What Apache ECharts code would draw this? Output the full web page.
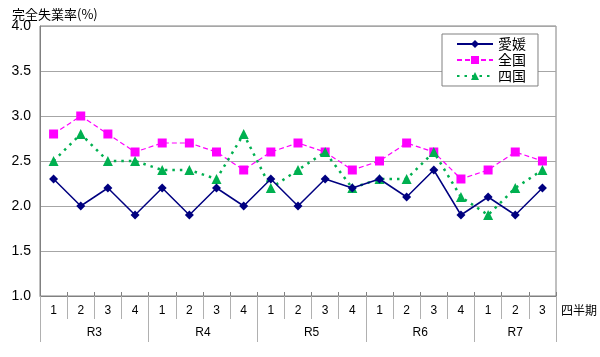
<!DOCTYPE html>
<html><head><meta charset="utf-8">
<script src="https://cdn.jsdelivr.net/npm/echarts@6/dist/echarts.min.js"></script>
<style>html,body{margin:0;padding:0;background:#fff}#c{width:600px;height:357px}</style>
</head><body><div id="c"></div>
<script>
const years = ['R3','R4','R5','R6','R7'];
const quartersPerYear = [4,4,4,4,3];
const seriesNames = ['愛媛','全国','四国'];
const ehime  = [2.3,2.0,2.2,1.9, 2.2,1.9,2.2,2.0, 2.3,2.0,2.3,2.2, 2.3,2.1,2.4,1.9, 2.1,1.9,2.2];
const zenkoku= [2.8,3.0,2.8,2.6, 2.7,2.7,2.6,2.4, 2.6,2.7,2.6,2.4, 2.5,2.7,2.6,2.3, 2.4,2.6,2.5];
const shikoku= [2.5,2.8,2.5,2.5, 2.4,2.4,2.3,2.8, 2.2,2.4,2.6,2.2, 2.3,2.3,2.6,2.1, 1.9,2.2,2.4];
const yTicks = {min:1.0, max:4.0, interval:0.5};

// quarter categories
const quarters = [];
quartersPerYear.forEach(n => { for (let q=1;q<=n;q++) quarters.push(String(q)); });
// half-step axis for year labels
const halfCats = new Array(quarters.length*2+1).fill('');
const boundaries = [0];
let acc = 0;
quartersPerYear.forEach((n,i) => {
  halfCats[acc*2 + n] = years[i];
  acc += n; boundaries.push(acc*2);
});

const font = '"Liberation Sans","Noto Sans CJK JP",sans-serif';
const jfont = '"Noto Sans CJK JP",sans-serif';
const chart = echarts.init(document.getElementById('c'));
chart.setOption({
  animation:false,
  title:{text:'完全失業率(%)', left:7, top:3, textStyle:{fontSize:13, fontWeight:'normal', color:'#000', fontFamily:jfont}},
  grid:{left:40, right:44, top:26, bottom:61, show:true, borderColor:'#808080', borderWidth:1, backgroundColor:'transparent'},
  legend:{
    orient:'vertical', left:442, top:34, width:95,
    backgroundColor:'#fff', borderColor:'#808080', borderWidth:1,
    padding:[3,12,3,14], itemGap:2, itemWidth:36, itemHeight:10,
    textStyle:{fontSize:14, color:'#000', fontFamily:jfont},
    data:seriesNames
  },
  xAxis:[
    {type:'category', data:quarters, boundaryGap:true, position:'bottom',
     axisLine:{show:true, lineStyle:{color:'#808080', width:1}},
     axisTick:{show:true, length:23, lineStyle:{color:'#B0B0B0'}},
     axisLabel:{margin:9, fontSize:12, color:'#000', fontFamily:font},
     splitLine:{show:false}},
    {type:'category', data:halfCats, boundaryGap:false, position:'bottom',
     axisLine:{show:false},
     axisTick:{show:true, length:46, lineStyle:{color:'#B0B0B0'}, interval:(i)=>boundaries.includes(i)},
     axisLabel:{margin:31, fontSize:12, color:'#000', fontFamily:font, interval:(i,v)=>v!==''},
     splitLine:{show:false}},
    {type:'category', data:quarters, boundaryGap:true, position:'bottom',
     axisLine:{show:false},
     axisTick:{show:true, inside:true, length:4, lineStyle:{color:'#808080'}},
     axisLabel:{show:false}, splitLine:{show:false}}
  ],
  yAxis:{type:'value', min:yTicks.min, max:yTicks.max, interval:yTicks.interval,
    axisLine:{show:true, lineStyle:{color:'#808080'}},
    axisTick:{show:false},
    axisLabel:{formatter:v=>v.toFixed(1), fontSize:14, color:'#000', fontFamily:font, margin:9},
    splitLine:{lineStyle:{color:'#A6A6A6', width:1}}},
  graphic:[{type:'text', left:561, top:304, style:{text:'四半期', fontSize:12, fill:'#000', fontFamily:jfont}}],
  series:[
    {name:seriesNames[0], type:'line', data:ehime, xAxisIndex:0, symbol:'diamond', symbolSize:9,
     lineStyle:{color:'#000080', width:1.5}, itemStyle:{color:'#000080'}, z:4},
    {name:seriesNames[1], type:'line', data:zenkoku, xAxisIndex:0, symbol:'rect', symbolSize:9,
     lineStyle:{color:'#FF00FF', width:1.2, type:[5,3]}, itemStyle:{color:'#FF00FF'}, z:2},
    {name:seriesNames[2], type:'line', data:shikoku, xAxisIndex:0, symbol:'triangle', symbolSize:10,
     lineStyle:{color:'#00B050', width:2.5, type:[2.5,5]}, itemStyle:{color:'#00B050'}, z:3}
  ]
});
</script></body></html>
